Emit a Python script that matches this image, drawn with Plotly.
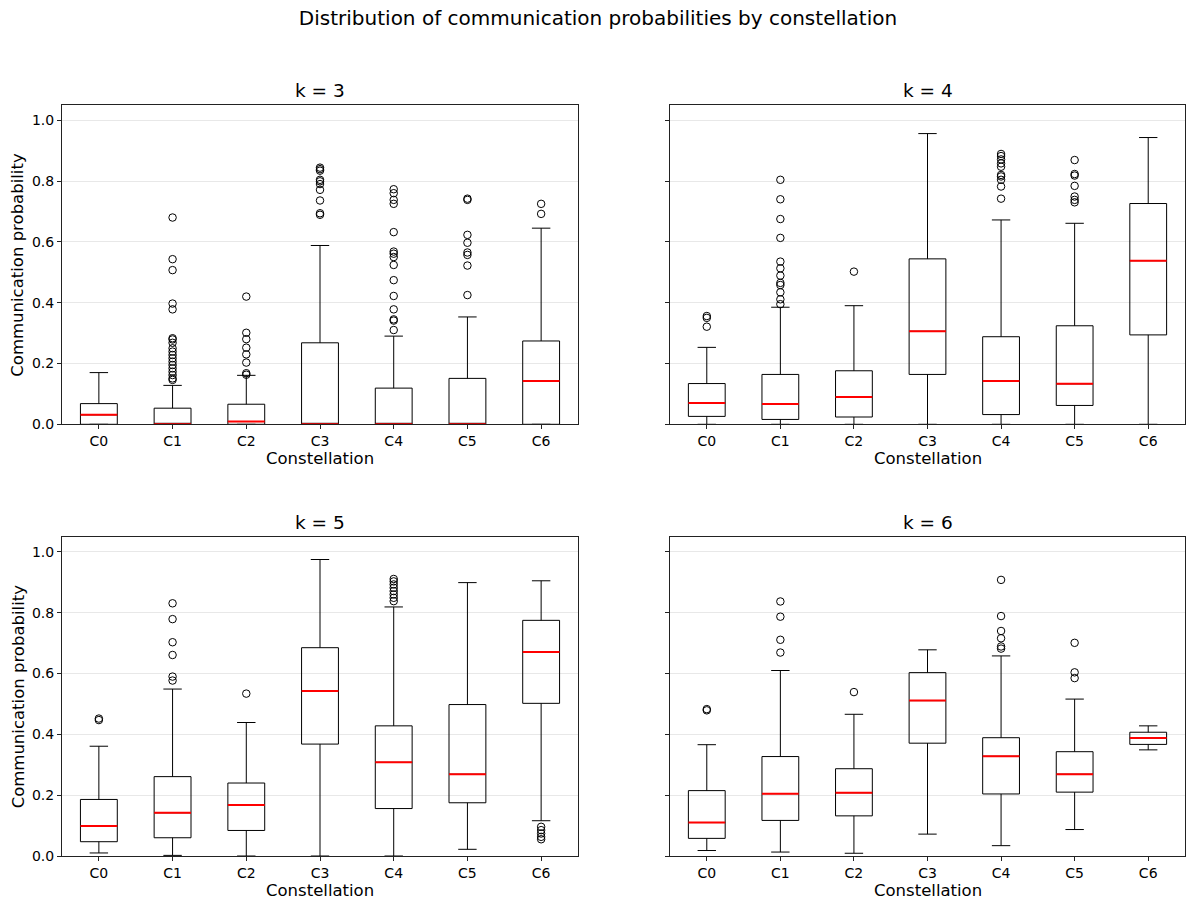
import plotly.graph_objects as go

# Constellation labels and box positions
categories = ["C0", "C1", "C2", "C3", "C4", "C5", "C6"]
positions = list(range(len(categories)))

# ---- k = 3 ----
q1_k3 = [0.0, 0.0, 0.0, 0.0, 0.0, 0.0, 0.0]
med_k3 = [0.031, 0.0, 0.009, 0.0, 0.0, 0.0, 0.142]
q3_k3 = [0.068, 0.053, 0.066, 0.268, 0.119, 0.151, 0.274]
lo_k3 = [0.0, 0.0, 0.0, 0.0, 0.0, 0.0, 0.0]
hi_k3 = [0.170, 0.128, 0.161, 0.588, 0.290, 0.353, 0.645]
out_k3 = [
    [],
    [0.680, 0.543, 0.507, 0.397, 0.378, 0.283, 0.279, 0.268, 0.250, 0.239,
     0.228, 0.217, 0.206, 0.195, 0.184, 0.173, 0.162, 0.151, 0.146],
    [0.420, 0.301, 0.280, 0.252, 0.230, 0.203, 0.168, 0.163],
    [0.844, 0.839, 0.834, 0.804, 0.799, 0.790, 0.771, 0.736, 0.694, 0.689],
    [0.773, 0.760, 0.738, 0.725, 0.632, 0.568, 0.561, 0.550, 0.524, 0.474,
     0.422, 0.378, 0.345, 0.341, 0.310],
    [0.742, 0.738, 0.623, 0.597, 0.565, 0.557, 0.522, 0.425],
    [0.725, 0.692],
]

# ---- k = 4 ----
q1_k4 = [0.026, 0.016, 0.024, 0.164, 0.032, 0.062, 0.294]
med_k4 = [0.070, 0.067, 0.090, 0.306, 0.142, 0.133, 0.538]
q3_k4 = [0.134, 0.164, 0.176, 0.544, 0.288, 0.324, 0.726]
lo_k4 = [0.0, 0.0, 0.0, 0.0, 0.0, 0.0, 0.0]
hi_k4 = [0.253, 0.385, 0.390, 0.956, 0.672, 0.661, 0.943]
out_k4 = [
    [0.356, 0.350, 0.321],
    [0.804, 0.740, 0.675, 0.613, 0.535, 0.513, 0.489, 0.465, 0.458, 0.434,
     0.411, 0.395],
    [0.502],
    [],
    [0.889, 0.882, 0.871, 0.858, 0.847, 0.820, 0.815, 0.804, 0.782, 0.742],
    [0.869, 0.823, 0.818, 0.784, 0.749, 0.738, 0.730],
    [],
]

# ---- k = 5 ----
q1_k5 = [0.047, 0.060, 0.084, 0.368, 0.156, 0.175, 0.502]
med_k5 = [0.099, 0.142, 0.168, 0.543, 0.308, 0.269, 0.671]
q3_k5 = [0.186, 0.261, 0.240, 0.685, 0.428, 0.498, 0.775]
lo_k5 = [0.010, 0.002, 0.0, 0.0, 0.0, 0.022, 0.116]
hi_k5 = [0.361, 0.549, 0.439, 0.975, 0.819, 0.899, 0.905]
out_k5 = [
    [0.452, 0.447],
    [0.831, 0.779, 0.703, 0.661, 0.590, 0.577],
    [0.534],
    [],
    [0.911, 0.903, 0.893, 0.882, 0.871, 0.860, 0.849, 0.838],
    [],
    [0.096, 0.085, 0.074, 0.063, 0.055],
]

# ---- k = 6 ----
q1_k6 = [0.058, 0.117, 0.132, 0.371, 0.204, 0.210, 0.367]
med_k6 = [0.110, 0.205, 0.208, 0.511, 0.328, 0.269, 0.388]
q3_k6 = [0.215, 0.327, 0.287, 0.603, 0.389, 0.343, 0.407]
lo_k6 = [0.018, 0.013, 0.009, 0.072, 0.034, 0.087, 0.349]
hi_k6 = [0.366, 0.610, 0.466, 0.678, 0.658, 0.516, 0.428]
out_k6 = [
    [0.483, 0.479],
    [0.837, 0.787, 0.711, 0.669],
    [0.539],
    [],
    [0.908, 0.789, 0.740, 0.716, 0.689, 0.682],
    [0.701, 0.604, 0.585],
    [],
]

panel_titles = ["k = 3", "k = 4", "k = 5", "k = 6"]
panels = [
    (q1_k3, med_k3, q3_k3, lo_k3, hi_k3, out_k3),
    (q1_k4, med_k4, q3_k4, lo_k4, hi_k4, out_k4),
    (q1_k5, med_k5, q3_k5, lo_k5, hi_k5, out_k5),
    (q1_k6, med_k6, q3_k6, lo_k6, hi_k6, out_k6),
]

W, H = 1186, 901
FONT = "DejaVu Sans"
BOX_W = 0.5

col_dom = [(62 / W, 578 / W), (670 / W, 1185 / W)]
row_dom = [(1 - 424.3 / H, 1 - 105 / H), (1 - 856 / H, 1 - 536.7 / H)]

fig = go.Figure()
annotations = []
layout_axes = {}

for idx, (q1, med, q3, lo, hi, outs) in enumerate(panels):
    r, c = divmod(idx, 2)
    sfx = "" if idx == 0 else str(idx + 1)
    xa, ya = "x" + sfx, "y" + sfx

    # boxes and whiskers
    fig.add_trace(go.Box(
        x=positions, q1=q1, median=med, q3=q3,
        lowerfence=lo, upperfence=hi,
        width=BOX_W, whiskerwidth=0.5, boxpoints=False,
        fillcolor="rgba(0,0,0,0)",
        line=dict(color="black", width=1),
        xaxis=xa, yaxis=ya, showlegend=False,
    ))

    # red median lines
    mx, my = [], []
    for p, m in zip(positions, med):
        mx += [p - BOX_W / 2, p + BOX_W / 2, None]
        my += [m, m, None]
    fig.add_trace(go.Scatter(
        x=mx, y=my, mode="lines",
        line=dict(color="red", width=2),
        xaxis=xa, yaxis=ya, showlegend=False, hoverinfo="skip",
    ))

    # outliers (fliers)
    ox, oy = [], []
    for p, vals in zip(positions, outs):
        ox += [p] * len(vals)
        oy += vals
    fig.add_trace(go.Scatter(
        x=ox, y=oy, mode="markers",
        marker=dict(symbol="circle-open", size=7.5, color="black",
                    line=dict(width=1)),
        xaxis=xa, yaxis=ya, showlegend=False,
    ))

    common = dict(
        showline=True, mirror=True, linecolor="#222", linewidth=1,
        ticks="outside", ticklen=4, tickwidth=1, tickcolor="#222",
        zeroline=False, automargin=False,
        tickfont=dict(family=FONT, size=14, color="black"),
    )
    layout_axes["xaxis" + sfx] = dict(
        domain=col_dom[c], anchor=ya, range=[-0.5, 6.5],
        tickvals=positions, ticktext=categories, showgrid=False,
        **common,
    )
    layout_axes["yaxis" + sfx] = dict(
        domain=row_dom[r], anchor=xa, range=[0, 1.05],
        tickvals=[0, 0.2, 0.4, 0.6, 0.8, 1.0], tickformat=".1f",
        showgrid=True, gridcolor="#e8e8e8", gridwidth=1,
        showticklabels=(c == 0),
        **common,
    )

    xc = (col_dom[c][0] + col_dom[c][1]) / 2
    # panel title
    annotations.append(dict(
        text=panel_titles[idx], x=xc, y=row_dom[r][1], xref="paper",
        yref="paper", xanchor="center", yanchor="bottom", yshift=2,
        showarrow=False, font=dict(family=FONT, size=18.5, color="black"),
    ))
    # x-axis label
    annotations.append(dict(
        text="Constellation", x=xc, y=row_dom[r][0], xref="paper",
        yref="paper", xanchor="center", yanchor="middle", yshift=-34,
        showarrow=False, font=dict(family=FONT, size=16.5, color="black"),
    ))
    # y-axis label on the left column
    if c == 0:
        annotations.append(dict(
            text="Communication probability", x=18 / W,
            y=(row_dom[r][0] + row_dom[r][1]) / 2, xref="paper",
            yref="paper", xanchor="center", yanchor="middle",
            textangle=-90, showarrow=False,
            font=dict(family=FONT, size=16.5, color="black"),
        ))

fig.update_layout(
    width=W, height=H, autosize=False,
    margin=dict(l=0, r=0, t=0, b=0, autoexpand=False),
    paper_bgcolor="white", plot_bgcolor="white",
    boxmode="overlay",
    title=dict(
        text="Distribution of communication probabilities by constellation",
        x=598 / W, y=1 - 18 / H, xanchor="center", yanchor="middle",
        font=dict(family=FONT, size=20, color="black"),
    ),
    annotations=annotations,
    **layout_axes,
)

fig.write_html("out.html")
